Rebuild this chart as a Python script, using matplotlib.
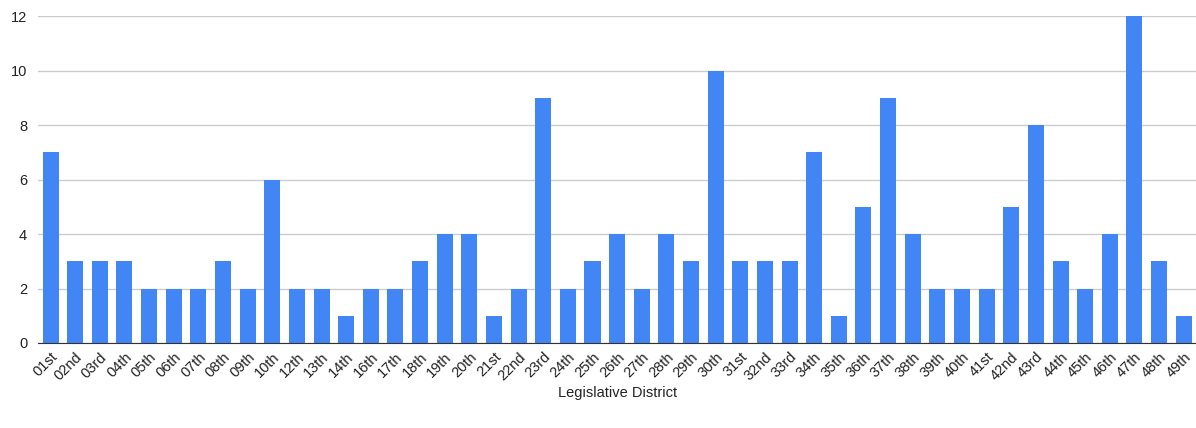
import matplotlib
matplotlib.use("Agg")
import matplotlib.pyplot as plt

districts = ["01st", "02nd", "03rd", "04th", "05th", "06th", "07th", "08th", "09th", "10th",
             "12th", "13th", "14th", "16th", "17th", "18th", "19th", "20th", "21st", "22nd",
             "23rd", "24th", "25th", "26th", "27th", "28th", "29th", "30th", "31st", "32nd",
             "33rd", "34th", "35th", "36th", "37th", "38th", "39th", "40th", "41st", "42nd",
             "43rd", "44th", "45th", "46th", "47th", "48th", "49th"]
counts = [7, 3, 3, 3, 2, 2, 2, 3, 2, 6,
          2, 2, 1, 2, 2, 3, 4, 4, 1, 2,
          9, 2, 3, 4, 2, 4, 3, 10, 3, 3,
          3, 7, 1, 5, 9, 4, 2, 2, 2, 5,
          8, 3, 2, 4, 12, 3, 1]
y_ticks = [0, 2, 4, 6, 8, 10, 12]

plt.rcParams['font.family'] = ['Liberation Sans', 'DejaVu Sans']

fig = plt.figure(figsize=(11.96, 4.28), dpi=100)
ax = fig.add_axes([0.032, 0.1986, 0.968, 0.764])

x = range(len(districts))
ax.bar(x, counts, width=0.65, color="#4285F4", zorder=3)

ax.set_xlim(-0.5, len(districts) - 0.5)
ax.set_ylim(0, 12)
ax.set_yticks(y_ticks)
ax.set_yticklabels([str(t) for t in y_ticks], fontsize=10.5, color="#222222")
ax.set_xticks(list(x))
ax.set_xticklabels(districts, rotation=45, ha="right", rotation_mode="anchor",
                   fontsize=10.5, color="#222222")

ax.yaxis.grid(True, color="#cccccc", linewidth=1, zorder=0)
ax.tick_params(axis="both", length=0)
ax.tick_params(axis="y", pad=8)
ax.tick_params(axis="x", pad=5)
for side in ["top", "right", "left"]:
    ax.spines[side].set_visible(False)
ax.spines["bottom"].set_color("#333333")
ax.spines["bottom"].set_zorder(4)

ax.set_xlabel("Legislative District", fontsize=10.5, color="#222222", labelpad=2)

fig.savefig("out.png", dpi=100)
